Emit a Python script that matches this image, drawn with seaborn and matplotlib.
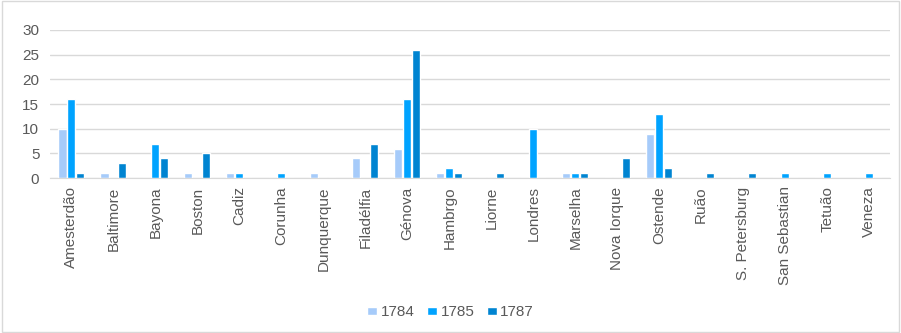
import matplotlib
matplotlib.use("Agg")
import matplotlib.pyplot as plt
import seaborn as sns
import pandas as pd

cities = ['Amesterdão', 'Baltimore', 'Bayona', 'Boston', 'Cadiz', 'Corunha',
          'Dunquerque', 'Filadélfia', 'Génova', 'Hambrgo', 'Liorne', 'Londres',
          'Marselha', 'Nova Iorque', 'Ostende', 'Ruão', 'S. Petersburg',
          'San Sebastian', 'Tetuão', 'Veneza']
v1784 = [10, 1, 0, 1, 1, 0, 1, 4, 6, 1, 0, 0, 1, 0, 9, 0, 0, 0, 0, 0]
v1785 = [16, 0, 7, 0, 1, 1, 0, 0, 16, 2, 0, 10, 1, 0, 13, 0, 0, 1, 1, 1]
v1787 = [1, 3, 4, 5, 0, 0, 0, 7, 26, 1, 1, 0, 1, 4, 2, 1, 1, 0, 0, 0]
years = ['1784', '1785', '1787']
colors = ['#A6CBFA', '#00A3FF', '#0084D1']

df = pd.DataFrame({'city': cities, '1784': v1784, '1785': v1785, '1787': v1787})
long = df.melt(id_vars='city', var_name='year', value_name='n')

sns.set_style('white')
plt.rcParams['font.family'] = ['Liberation Sans', 'DejaVu Sans']

fig = plt.figure(figsize=(9.01, 3.33), dpi=100)
ax = fig.add_axes([0.056, 0.465, 0.932, 0.445])

sns.barplot(data=long, x='city', y='n', hue='year', hue_order=years,
            palette=colors, width=0.64, gap=0.1, ax=ax, saturation=1)

ax.set_ylim(0, 30)
ax.set_yticks(range(0, 31, 5))
ax.set_xlim(-0.5, len(cities) - 0.5)
ax.grid(axis='y', color='#d9d9d9', linewidth=1)
ax.set_axisbelow(True)
for s in ['top', 'left', 'right']:
    ax.spines[s].set_visible(False)
ax.spines['bottom'].set_color('#d9d9d9')
ax.tick_params(axis='x', rotation=90, labelsize=11, colors='#595959', length=0, pad=6)
ax.tick_params(axis='y', labelsize=11, colors='#595959', length=0, pad=8)
ax.set_xlabel('')
ax.set_ylabel('')

ax.legend(loc='lower center', bbox_to_anchor=(0.5, 0.0), bbox_transform=fig.transFigure,
          ncol=3, frameon=False, fontsize=11, handlelength=0.65, handleheight=0.4,
          handletextpad=0.25, columnspacing=0.8, labelcolor='#595959')

fig.patches.append(plt.Rectangle((0.002, 0.003), 0.996, 0.994, transform=fig.transFigure,
                                 fill=False, edgecolor='#d9d9d9', linewidth=1))
fig.savefig('out.png', dpi=100)
